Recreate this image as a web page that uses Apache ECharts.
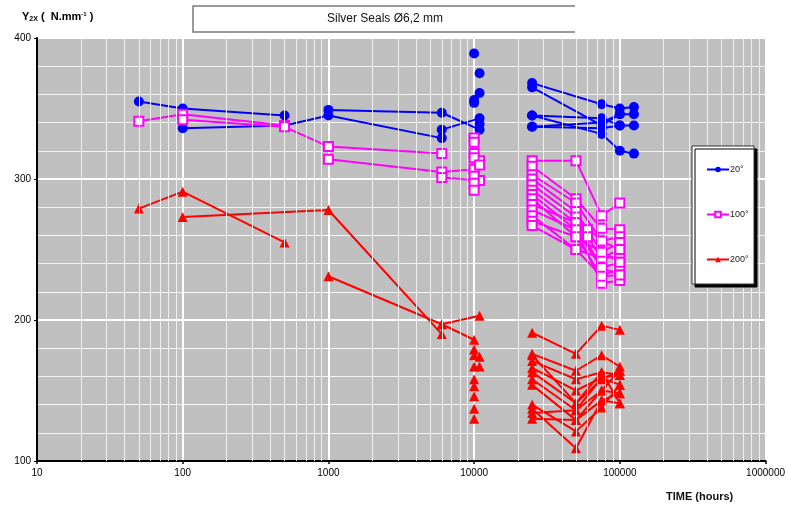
<!DOCTYPE html>
<html><head><meta charset="utf-8">
<script src="https://cdn.jsdelivr.net/npm/echarts@6/dist/echarts.min.js"></script>
<style>html,body{margin:0;padding:0;background:#fff}#c{width:788px;height:510px}</style>
</head><body><div id="c"></div>
<script>
// ---- data (time in hours, Y in N.mm^-1) ----
const xTickLabels = [10, 100, 1000, 10000, 100000, 1000000];
const yTickLabels = [100, 200, 300, 400];
const legendNames = ['20°', '100°', '200°'];

// 20 °C
const b1 = [[50,355],[100,350],[500,345]];
const b2 = [[100,336],[500,338],[1000,345],[6000,329]];
const b3 = [[1000,349],[6000,347],[10900,335]];
const b4 = [[6000,335],[10900,343]];
const bIso = [[10000,389],[10900,375],[10900,361],[10000,356],[10000,354],[10900,339]];
const b6 = [[25000,368],[75000,353],[100000,350],[125000,351]];
const b7 = [[25000,365],[75000,338],[100000,346],[125000,346]];
const b8 = [[25000,345],[75000,343],[100000,338],[125000,338]];
const b9 = [[25000,337],[75000,336],[100000,338]];
const b10 = [[25000,345],[75000,332],[100000,320],[125000,318]];
const b11 = [[25000,337],[75000,340],[100000,346]];

// 100 °C
const p1 = [[50,341],[100,346],[500,338]];
const p2 = [[100,342],[500,337],[1000,323],[6000,318]];
const p3 = [[1000,314],[6000,305],[10000,307]];
const p4 = [[6000,301],[10900,299]];
const pIso = [[10000,329],[10000,326],[10000,318],[10900,313],[10000,315],[10900,310],[10000,302],[10000,297],[10000,292]];
const p5 = [[25000,313],[50000,313],[75000,274],[100000,283]];
const p6 = [[25000,309],[50000,286],[75000,265],[100000,264]];
const p7 = [[25000,303],[50000,283],[75000,256],[100000,259]];
const p8 = [[25000,300],[50000,277],[60000,264],[75000,248],[100000,255]];
const p9 = [[25000,296],[50000,273],[75000,256],[100000,250]];
const p10 = [[25000,292],[50000,269],[60000,259],[75000,244],[100000,245]];
const p11 = [[25000,289],[50000,264],[75000,237],[100000,241]];
const p12 = [[25000,286],[50000,259],[75000,231],[100000,237]];
const p13 = [[25000,282],[50000,269],[75000,237],[100000,232]];
const p14 = [[25000,278],[50000,264],[75000,226],[100000,228]];
const p15 = [[25000,274],[50000,250],[75000,244],[100000,250]];
const p16 = [[25000,270],[50000,259],[75000,248],[100000,241]];
const p17 = [[25000,267],[50000,250],[75000,231],[100000,232]];

// 200 °C
const r1 = [[50,279],[100,291],[500,255]];
const r2 = [[100,273],[1000,278],[6000,190]];
const r3 = [[1000,231],[6000,197],[10900,203]];
const r4 = [[6000,197],[10000,186]];
const rIso = [[10000,179],[10000,175],[10900,174],[10900,167],[10000,167],[10000,158],[10000,153],[10000,146],[10000,137],[10000,130]];
const r5 = [[25000,191],[50000,176],[75000,196],[100000,193]];
const r6 = [[25000,176],[50000,164],[75000,175],[100000,167]];
const r7 = [[25000,171],[50000,158],[75000,163],[100000,161]];
const r8 = [[25000,166],[50000,150],[75000,159],[100000,154]];
const r9 = [[25000,163],[50000,141],[75000,158],[100000,164]];
const r10 = [[25000,158],[50000,136],[75000,150],[100000,148]];
const r11 = [[25000,154],[50000,129],[75000,143],[100000,141]];
const r12 = [[25000,140],[50000,121],[75000,138],[100000,154]];
const r13 = [[25000,137],[50000,109],[75000,143],[100000,148]];
const r14 = [[25000,134],[50000,136],[75000,159],[100000,161]];
const r15 = [[25000,130],[50000,129],[75000,150],[100000,164]];
const r16 = [[25000,175],[50000,141],[75000,163],[100000,141]];

const blueLines = [b1,b2,b3,b4,b6,b7,b8,b9,b10,b11];
const pinkLines = [p1,p2,p3,p4,p5,p6,p7,p8,p9,p10,p11,p12,p13,p14,p15,p16,p17];
const redLines = [r1,r2,r3,r4,r5,r6,r7,r8,r9,r10,r11,r12,r13,r14,r15,r16];

// ---- chart ----
const BLUE = '#0000ff', PINK = '#ff00ff', RED = '#ff0000';
function mk(name, data, color, symbol, fillColor, size, hideLine) {
  return {
    type: 'line', name: name, data: data, z: 3,
    symbol: symbol, symbolSize: size,
    itemStyle: { color: fillColor, borderColor: color, borderWidth: symbol === 'rect' ? 2 : 0 },
    lineStyle: { color: color, width: 2, opacity: hideLine ? 0 : 1 },
    animation: false, silent: true
  };
}
const minorX = [];
for (let d = 10; d < 1000000; d *= 10) for (let k = 2; k <= 9; k++) minorX.push(d * k);

const series = [{
  type: 'line', data: [], z: 1, silent: true, animation: false,
  markLine: { silent: true, symbol: ['none','none'], label: { show: false }, animation: false,
    lineStyle: { color: '#f0f0f0', width: 1, type: 'solid' },
    data: minorX.map(v => ({ xAxis: v })) }
}];
blueLines.forEach(d => series.push(mk(legendNames[0], d, BLUE, 'circle', BLUE, 10)));
series.push(mk(legendNames[0], bIso, BLUE, 'circle', BLUE, 10, true));
pinkLines.forEach(d => series.push(mk(legendNames[1], d, PINK, 'rect', '#ffffff', 9)));
series.push(mk(legendNames[1], pIso, PINK, 'rect', '#ffffff', 9, true));
redLines.forEach(d => series.push(mk(legendNames[2], d, RED, 'triangle', RED, 10)));
series.push(mk(legendNames[2], rIso, RED, 'triangle', RED, 10, true));

const chart = echarts.init(document.getElementById('c'), null, { renderer: 'canvas' });
chart.setOption({
  backgroundColor: '#ffffff',
  animation: false,
  textStyle: { fontFamily: 'Liberation Sans, Arial, sans-serif' },
  grid: { left: 37, right: 21, top: 38, bottom: 49, show: true, backgroundColor: '#c0c0c0', borderColor: '#a0a0a0', borderWidth: 1 },
  xAxis: {
    type: 'log', logBase: 10, min: xTickLabels[0], max: xTickLabels[xTickLabels.length - 1],
    axisLine: { show: true, lineStyle: { color: '#000', width: 2 } },
    axisTick: { show: true, length: 3, lineStyle: { color: '#000', width: 1.5 } },
    axisLabel: { color: '#000', fontSize: 10, margin: 7, formatter: v => String(v) },
    splitLine: { show: true, lineStyle: { color: '#ffffff', width: 2 } },
    minorTick: { show: false }, minorSplitLine: { show: false }
  },
  yAxis: {
    type: 'value', min: yTickLabels[0], max: yTickLabels[yTickLabels.length - 1], interval: 100,
    axisLine: { show: true, lineStyle: { color: '#000', width: 2 } },
    axisTick: { show: true, length: 3, lineStyle: { color: '#000' } },
    axisLabel: { color: '#000', fontSize: 10, margin: 6 },
    splitLine: { show: true, lineStyle: { color: '#ffffff', width: 2 } },
    minorTick: { show: false, splitNumber: 5 },
    minorSplitLine: { show: true, lineStyle: { color: '#f4f4f4', width: 1 } }
  },
  legend: {
    data: legendNames, orient: 'vertical', left: 701, top: 160, itemGap: 36,
    itemWidth: 22, itemHeight: 7, z: 20, selectedMode: false,
    textStyle: { fontSize: 9, color: '#222', padding: [0,0,0,-4] }
  },
  graphic: [
    { type: 'rect', z: 10, shape: { x: 692, y: 146, width: 62, height: 138 },
      style: { fill: '#ffffff', stroke: '#333', lineWidth: 1, shadowColor: '#000', shadowOffsetX: 3, shadowOffsetY: 3, shadowBlur: 0 } },
    { type: 'polyline', z: 10, shape: { points: [[575,6],[193,6],[193,32],[575,32]] },
      style: { stroke: '#7a7a7a', lineWidth: 1.5, fill: null } },
    { type: 'text', z: 10, x: 385, y: 19,
      style: { text: 'Silver Seals Ø6,2 mm', textAlign: 'center', textVerticalAlign: 'middle', font: '12px "Liberation Sans", Arial', fill: '#111' } },
    { type: 'text', z: 10, x: 22, y: 10,
      style: { text: '{a|Y}{s|2X}{a| (  N.mm}{u|-1}{a| )}', rich: {
          a: { fontSize: 11, fontWeight: 'bold', fontFamily: 'Liberation Sans', color: '#111' },
          s: { fontSize: 7, fontWeight: 'bold', fontFamily: 'Liberation Sans', color: '#111', padding: [6,0,0,0] },
          u: { fontSize: 6, fontWeight: 'bold', fontFamily: 'Liberation Sans', color: '#111', padding: [0,0,4,0] } } } },
    { type: 'text', z: 10, x: 666, y: 491,
      style: { text: 'TIME (hours)', font: 'bold 11px "Liberation Sans", Arial', fill: '#111' } }
  ],
  series: series
});
</script>
</body></html>
